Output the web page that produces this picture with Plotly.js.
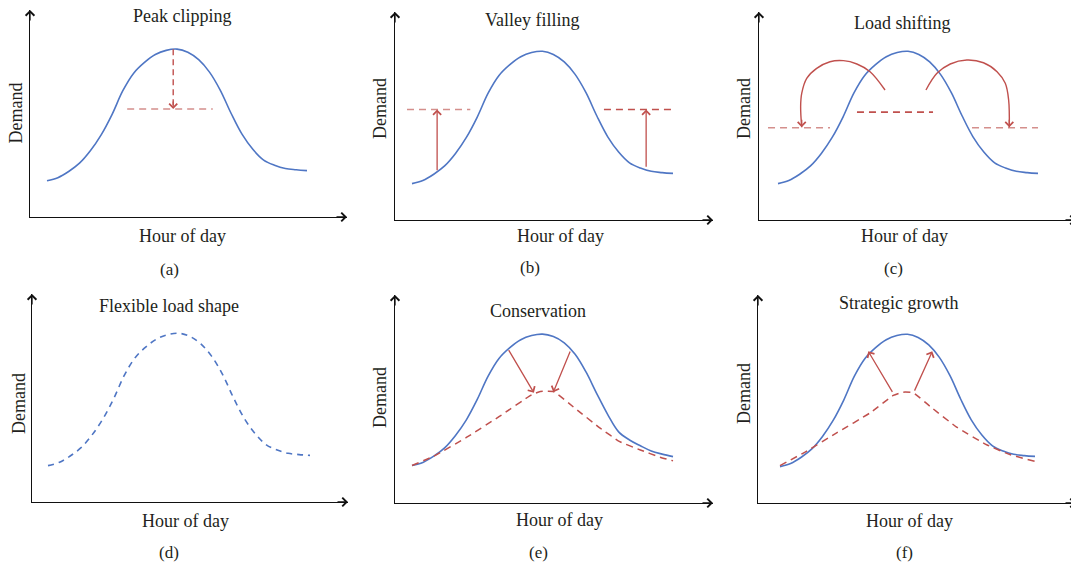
<!DOCTYPE html>
<html><head><meta charset="utf-8">
<script src="https://cdn.plot.ly/plotly-3.0.1.min.js"></script>
<style>html,body{margin:0;padding:0;background:#fff}#chart{width:1071px;height:566px}</style>
</head><body><div id="chart"></div>
<script>
// ---------------- data ----------------
const hours = [0,1,2,3,4,5,6,7,8,9,10,11,12,13,14,15,16,17,18,19,20,21,22,23,24];
const baseDemand = [1.75,1.9,2.2,2.6,3.2,3.97,4.95,6.1,6.95,7.47,7.85,8.05,8.11,7.96,7.6,7.0,6.12,5.0,4.0,3.27,2.75,2.5,2.34,2.28,2.24];
// the curve in panel (e) is drawn a little wider on its right side
const conservationBaseDemand = [1.8,1.95,2.25,2.65,3.25,4.0,4.98,6.1,6.95,7.47,7.85,8.05,8.12,8.0,7.7,7.15,6.3,5.25,4.25,3.42,3.03,2.75,2.5,2.35,2.23];

const panelTitles = ['Peak clipping','Valley filling','Load shifting','Flexible load shape','Conservation','Strategic growth'];
const panelLetters = ['(a)','(b)','(c)','(d)','(e)','(f)'];
const xTitle = 'Hour of day';
const yTitle = 'Demand';

// (a) peak clipping
const clipHours = [7.4, 15.3];
const clipLevel = [5.22, 5.22];
const clipDropHours = [11.65, 11.65];
const clipDropDemand = [8.1, 5.22];

// (b) valley filling
const fillLeftHours = [-0.46, 5.36];
const fillRightHours = [17.65, 24.1];
const fillLevel = [5.31, 5.31];
const fillArrowHours = [2.31, 21.53];
const fillArrowFrom = [2.32, 2.49];
const fillArrowTo = [5.31, 5.31];

// (c) load shifting
const shiftLeftHours = [-0.92, 4.80];
const shiftRightHours = [17.91, 24.0];
const shiftOffLevel = [4.44, 4.44];
const shiftPeakHours = [7.29, 14.31];
const shiftPeakLevel = [5.19, 5.19];
const leftArcHours = [9.88, 8.50, 7.28, 6.04, 4.80, 3.57, 2.65, 2.19, 2.09, 2.19];
const leftArcDemand = [6.25, 7.13, 7.50, 7.66, 7.61, 7.29, 6.81, 6.09, 5.45, 4.46];
const rightArcHours = [13.66, 14.67, 15.90, 17.43, 18.97, 20.22, 20.98, 21.29, 21.35];
const rightArcDemand = [6.25, 7.05, 7.50, 7.69, 7.56, 7.13, 6.57, 5.77, 4.46];

// (e) conservation
const conserveHours = [0, 2, 5, 8, 11, 11.8, 13, 15, 17.3, 19.1, 21, 22.8, 24];
const conserveDemand = [1.8, 2.25, 3.15, 4.15, 5.2, 5.36, 5.36, 4.55, 3.6, 2.95, 2.55, 2.2, 2.03];
const conserveArrowFromH = [8.81, 14.6];
const conserveArrowFromD = [7.42, 7.35];
const conserveArrowToH = [11.21, 13.0];
const conserveArrowToD = [5.30, 5.33];

// (f) strategic growth
const growthHours = [0, 2.19, 5.33, 8.47, 10.66, 11.6, 12.54, 14.11, 16.62, 19.45, 21.64, 24];
const growthDemand = [1.8, 2.4, 3.37, 4.33, 5.17, 5.33, 5.30, 4.65, 3.65, 2.8, 2.33, 2.0];
const growthArrowFromH = [10.66, 12.6];
const growthArrowFromD = [5.27, 5.33];
const growthArrowToH = [8.31, 14.33];
const growthArrowToD = [7.29, 7.29];

// ---------------- layout geometry (pixels) ----------------
const W = 1071, H = 566;
const panels = [
  {origin:30,  h0:47,  h24:307,  right:347,  top:10,  bottom:217, xEnd:1},
  {origin:395, h0:412, h24:673,  right:713,  top:12,  bottom:220, xEnd:1},
  {origin:759, h0:778, h24:1038, right:1071, top:12,  bottom:220, xEnd:1.016},
  {origin:32,  h0:48,  h24:310,  right:348,  top:294, bottom:502, xEnd:1},
  {origin:395, h0:412, h24:673,  right:713,  top:295, bottom:503, xEnd:1},
  {origin:758, h0:780, h24:1035, right:1071, top:295, bottom:503, xEnd:1.016}
];
const textPos = [
  {title:[182,16],  xt:[182,236], yt:[15.5,113], lab:[169,269]},
  {title:[532,20],  xt:[560,236], yt:[380,109],  lab:[530,267]},
  {title:[902,23],  xt:[904,236], yt:[744,109],  lab:[893,268]},
  {title:[169,306], xt:[185,521], yt:[19,404],   lab:[169,552]},
  {title:[538,311], xt:[559,520], yt:[380,398],  lab:[538,552]},
  {title:[898,303], xt:[909,521], yt:[744,394],  lab:[904,552]}
];

const BLUE = '#4F76C4';
const RED = '#C0504D';
const PINK = '#D48F8C';
const FONT = 'Liberation Serif, Times New Roman, serif';

const layout = {
  width: W, height: H,
  margin: {l:0, r:0, t:0, b:0},
  paper_bgcolor: '#ffffff', plot_bgcolor: 'rgba(0,0,0,0)',
  showlegend: false,
  font: {family: FONT, size: 18, color: '#231F20'},
  annotations: []
};
const sfx = i => (i === 0 ? '' : String(i + 1));

panels.forEach((p, i) => {
  const s = (p.h24 - p.h0) / 24;
  const n = sfx(i);
  layout['xaxis' + n] = {
    domain: [p.origin / W, Math.min(1, p.right / W)],
    range: [(p.origin - p.h0) / s, (p.right - p.h0) / s],
    anchor: 'y' + n, showline: true, linecolor: '#111', linewidth: 1.3,
    showgrid: false, zeroline: false, showticklabels: false, ticks: '', fixedrange: true
  };
  layout['yaxis' + n] = {
    domain: [1 - p.bottom / H, 1 - p.top / H],
    range: [0, 10],
    anchor: 'x' + n, showline: true, linecolor: '#111', linewidth: 1.3,
    showgrid: false, zeroline: false, showticklabels: false, ticks: '', fixedrange: true
  };
  // axis arrowheads
  layout.annotations.push({
    xref: 'x' + n + ' domain', yref: 'y' + n + ' domain', x: p.xEnd, y: 0,
    ax: -12, ay: 0, text: '', showarrow: true, arrowhead: 4, arrowsize: 1.3,
    arrowwidth: 1.3, arrowcolor: '#111', standoff: 0
  });
  layout.annotations.push({
    xref: 'x' + n + ' domain', yref: 'y' + n + ' domain', x: 0, y: 1,
    ax: 0, ay: 12, text: '', showarrow: true, arrowhead: 4, arrowsize: 1.3,
    arrowwidth: 1.3, arrowcolor: '#111', standoff: 0
  });
  // texts
  const t = textPos[i];
  const txt = (str, pos, extra) => Object.assign({
    xref: 'paper', yref: 'paper', x: pos[0] / W, y: 1 - pos[1] / H,
    xanchor: 'center', yanchor: 'middle', text: str, showarrow: false,
    font: {family: FONT, size: 18, color: '#231F20'}
  }, extra || {});
  layout.annotations.push(txt(panelTitles[i], t.title));
  layout.annotations.push(txt(xTitle, t.xt));
  layout.annotations.push(txt(yTitle, t.yt, {textangle: -90}));
  layout.annotations.push(txt(panelLetters[i], t.lab, {font: {family: FONT, size: 17, color: '#231F20'}}));
});

const traces = [];
function line(i, xs, ys, color, width, dash, shape, smoothing) {
  const n = sfx(i);
  traces.push({
    type: 'scatter', mode: 'lines', x: xs, y: ys,
    xaxis: 'x' + n, yaxis: 'y' + n, hoverinfo: 'skip', cliponaxis: false,
    line: {color: color, width: width, dash: dash || 'solid', shape: shape || 'linear', smoothing: smoothing === undefined ? 1 : smoothing}
  });
}
function arrow(i, x, y, ax, ay, color, dataRef) {
  const n = sfx(i);
  const a = {
    xref: 'x' + n, yref: 'y' + n, x: x, y: y, ax: ax, ay: ay, text: '',
    showarrow: true, arrowhead: 4, arrowsize: 1.2, arrowwidth: 1.3,
    arrowcolor: color, standoff: 0
  };
  if (dataRef) { a.axref = 'x' + n; a.ayref = 'y' + n; }
  layout.annotations.push(a);
}

// (a)
line(0, hours, baseDemand, BLUE, 1.6, 'solid', 'spline');
line(0, clipHours, clipLevel, PINK, 1.6, '7px,5px');
line(0, clipDropHours, clipDropDemand, RED, 1.4, '6px,4px');
arrow(0, clipDropHours[1], clipDropDemand[1], 0, -9, RED, false);

// (b)
line(1, hours, baseDemand, BLUE, 1.6, 'solid', 'spline');
line(1, fillLeftHours, fillLevel, PINK, 1.5, '7px,5px');
line(1, fillRightHours, fillLevel, RED, 1.4, '7px,5px');
fillArrowHours.forEach((h, k) => arrow(1, h, fillArrowTo[k], h, fillArrowFrom[k], RED, true));

// (c)
line(2, hours, baseDemand, BLUE, 1.6, 'solid', 'spline');
line(2, shiftLeftHours, shiftOffLevel, PINK, 1.5, '7px,5px');
line(2, shiftRightHours, shiftOffLevel, PINK, 1.5, '7px,5px');
line(2, shiftPeakHours, shiftPeakLevel, RED, 1.8, '7px,5px');
line(2, leftArcHours, leftArcDemand, RED, 1.4, 'solid', 'spline');
line(2, rightArcHours, rightArcDemand, RED, 1.4, 'solid', 'spline');
arrow(2, leftArcHours[leftArcHours.length - 1], leftArcDemand[leftArcDemand.length - 1], 0, -9, RED, false);
arrow(2, rightArcHours[rightArcHours.length - 1], rightArcDemand[rightArcDemand.length - 1], 0, -9, RED, false);

// (d)
line(3, hours, baseDemand, BLUE, 1.6, '6px,5px', 'spline');

// (e)
line(4, hours, conservationBaseDemand, BLUE, 1.6, 'solid', 'spline');
line(4, conserveHours, conserveDemand, RED, 1.5, '7px,5px', 'spline', 0.4);
conserveArrowToH.forEach((h, k) => arrow(4, h, conserveArrowToD[k], conserveArrowFromH[k], conserveArrowFromD[k], RED, true));

// (f)
line(5, hours, baseDemand, BLUE, 1.6, 'solid', 'spline');
line(5, growthHours, growthDemand, RED, 1.5, '7px,5px', 'spline', 0.4);
growthArrowToH.forEach((h, k) => arrow(5, h, growthArrowToD[k], growthArrowFromH[k], growthArrowFromD[k], RED, true));

Plotly.newPlot('chart', traces, layout, {staticPlot: true, displayModeBar: false});
</script>
</body></html>
